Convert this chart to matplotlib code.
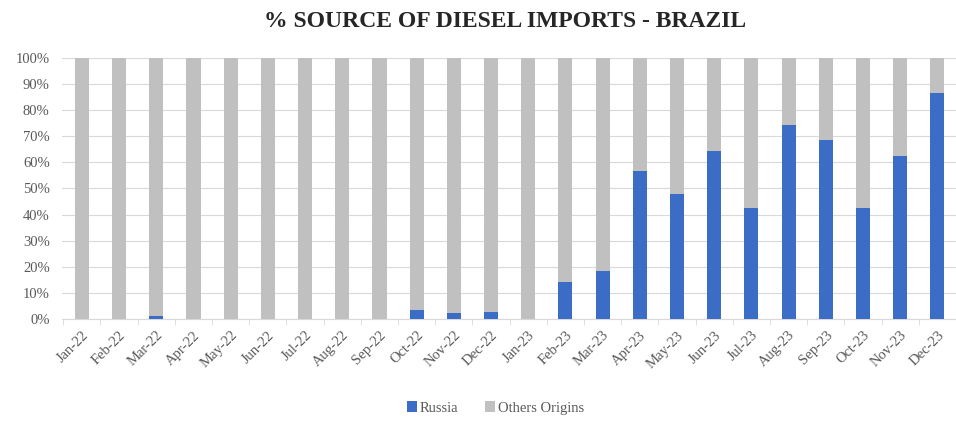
import matplotlib.pyplot as plt
import numpy as np

plt.rcParams['font.family'] = ['Liberation Serif', 'DejaVu Serif']

months = ['Jan-22', 'Feb-22', 'Mar-22', 'Apr-22', 'May-22', 'Jun-22', 'Jul-22', 'Aug-22',
          'Sep-22', 'Oct-22', 'Nov-22', 'Dec-22', 'Jan-23', 'Feb-23', 'Mar-23', 'Apr-23',
          'May-23', 'Jun-23', 'Jul-23', 'Aug-23', 'Sep-23', 'Oct-23', 'Nov-23', 'Dec-23']
russia = [0, 0, 1.0, 0, 0, 0, 0, 0, 0, 3.5, 2.3, 2.7, 0, 14, 18.4, 56.7,
          48, 64.4, 42.5, 74.3, 68.6, 42.5, 62.5, 86.6]
others = [100 - r for r in russia]

blue = '#3b6cc6'
gray = '#c0c0c0'

fig = plt.figure(figsize=(9.56, 4.22), dpi=100)
ax = fig.add_axes([0.065, 0.244, 0.935, 0.619])

x = np.arange(len(months))
w = 0.38
ax.bar(x, russia, w, color=blue, label='Russia', zorder=3)
ax.bar(x, others, w, bottom=russia, color=gray, label='Others Origins', zorder=3)

ax.set_xlim(-0.53, 23.27)
ax.set_ylim(0, 100)
ax.set_yticks(np.arange(0, 101, 10))
ax.set_yticklabels([f'{v}%' for v in range(0, 101, 10)], fontsize=10.5, color='#595959')
ax.set_xticks(x)
ax.set_xticklabels(months, rotation=45, ha='right', rotation_mode='anchor',
                   fontsize=10.5, color='#595959')
ax.set_xticks(np.arange(-0.5, 24, 1), minor=True)
ax.tick_params(axis='x', which='major', length=0, pad=7)
ax.tick_params(axis='x', which='minor', length=4, color='#d9d9d9')
ax.tick_params(axis='y', length=0, pad=9)

ax.grid(axis='y', color='#d9d9d9', linewidth=0.8, zorder=0)
for s in ['top', 'right', 'left']:
    ax.spines[s].set_visible(False)
ax.spines['bottom'].set_color('#d9d9d9')

fig.text(0.528, 0.95, '% SOURCE OF DIESEL IMPORTS - BRAZIL', ha='center', va='center',
         fontsize=17, fontweight='bold', color='#262626')

fig.legend(loc='center', bbox_to_anchor=(0.518, 0.033), ncol=2, frameon=False,
           fontsize=10.5, handlelength=0.7, handleheight=0.7, handletextpad=0.2,
           columnspacing=1.8, labelcolor='#595959')

plt.savefig('out.png', dpi=100)
